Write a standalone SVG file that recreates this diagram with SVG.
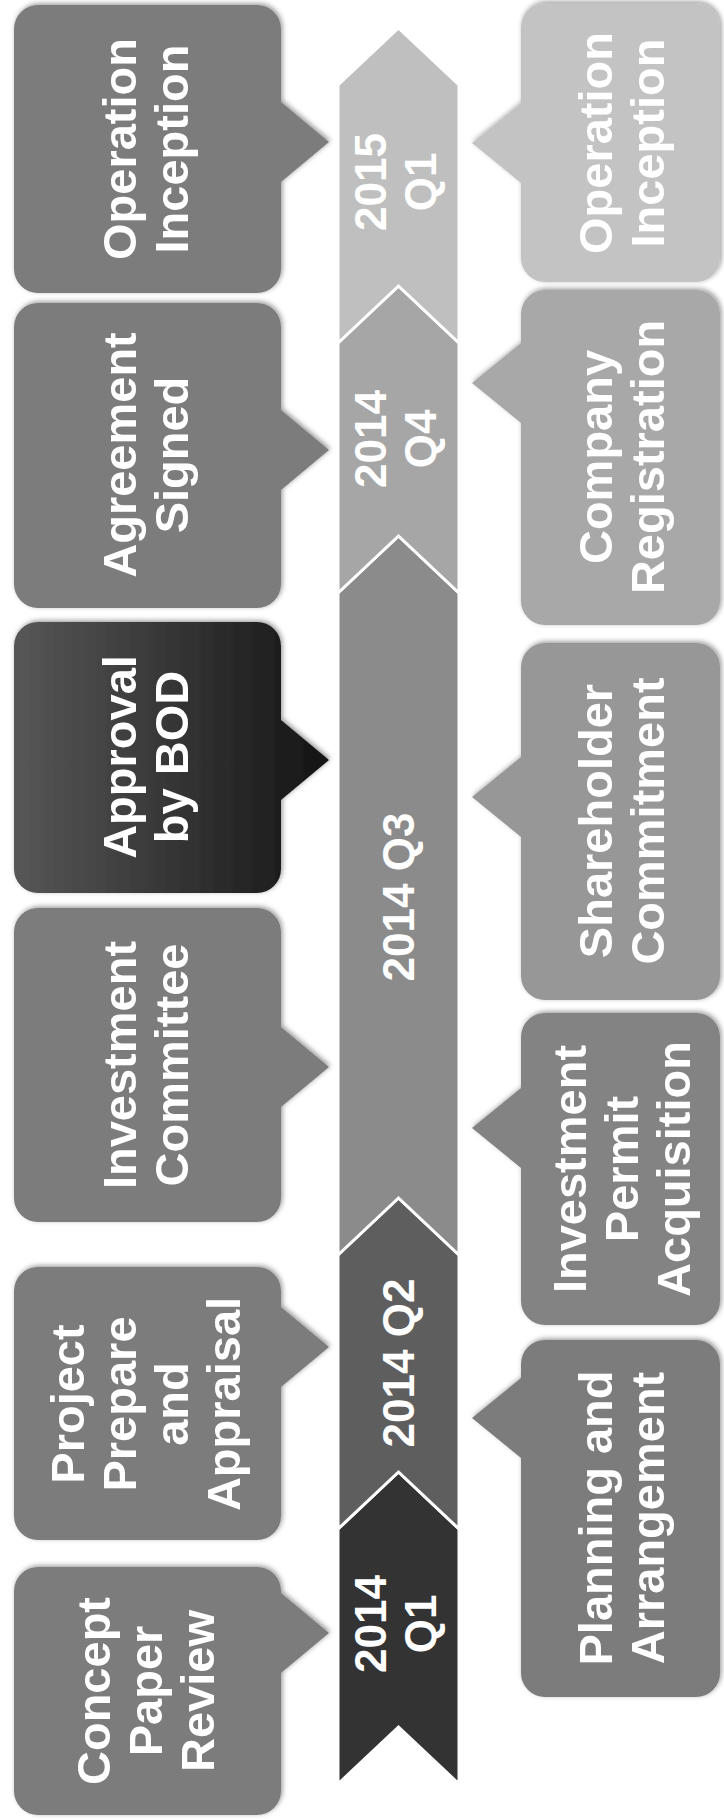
<svg xmlns="http://www.w3.org/2000/svg" width="724" height="1819" viewBox="0 0 724 1819">
<defs>
<style>
.lbl{font-family:"Liberation Sans",Arial,sans-serif;font-weight:bold;fill:#ffffff;text-anchor:middle}
.box{font-size:47px}
.band{font-size:44px}
.seg{stroke:#ffffff;stroke-width:3;stroke-linejoin:miter}
.call{filter:url(#sh)}
</style>
<filter id="sh" x="-10%" y="-10%" width="120%" height="120%">
<feDropShadow dx="1.5" dy="-1.5" stdDeviation="2.5" flood-color="#000" flood-opacity="0.4"/>
</filter>
<linearGradient id="dark" x1="0" y1="0" x2="1" y2="0">
<stop offset="0" stop-color="#575757"/>
<stop offset="1" stop-color="#141414"/>
</linearGradient>
</defs>
<rect width="724" height="1819" fill="#ffffff"/>

<g id="timeline">
<g id="seg-2014-q1">
<polygon class="seg" fill="#333333" points="338,1784 398.5,1727 459,1784 459,1529 398.5,1472 338,1529"/>
<text class="lbl band" transform="translate(396,1624) rotate(-90)"><tspan x="0" y="-9.6">2014</tspan><tspan x="0" y="40.4">Q1</tspan></text>
</g>
<g id="seg-2014-q2">
<polygon class="seg" fill="#5e5e5e" points="338,1529 398.5,1472 459,1529 459,1255 398.5,1198 338,1255"/>
<text class="lbl band" transform="translate(398.5,1363) rotate(-90)"><tspan x="0" y="15.4">2014 Q2</tspan></text>
</g>
<g id="seg-2014-q3">
<polygon class="seg" fill="#8b8b8b" points="338,1255 398.5,1198 459,1255 459,593 398.5,536 338,593"/>
<text class="lbl band" transform="translate(398.5,897) rotate(-90)"><tspan x="0" y="15.4">2014 Q3</tspan></text>
</g>
<g id="seg-2014-q4">
<polygon class="seg" fill="#a6a6a6" points="338,593 398.5,536 459,593 459,343 398.5,286 338,343"/>
<text class="lbl band" transform="translate(396,439) rotate(-90)"><tspan x="0" y="-9.6">2014</tspan><tspan x="0" y="40.4">Q4</tspan></text>
</g>
<g id="seg-2015-q1">
<polygon class="seg" fill="#bfbfbf" points="338,343 398.5,286 459,343 459,85 398.5,28 338,85"/>
<text class="lbl band" transform="translate(396,182) rotate(-90)"><tspan x="0" y="-9.6">2015</tspan><tspan x="0" y="40.4">Q1</tspan></text>
</g>
</g>

<g id="top-callouts">
<g id="concept-paper-review" class="call">
<path fill="#7b7b7b" d="M38,1567 H257 A24,24 0 0 1 281,1591 V1593 L329,1633 L281,1673 V1791 A24,24 0 0 1 257,1815 H38 A24,24 0 0 1 14,1791 V1591 A24,24 0 0 1 38,1567 Z"/>
<text class="lbl box" transform="translate(145,1691) rotate(-90)"><tspan x="0" y="-35.5">Concept</tspan><tspan x="0" y="16.5">Paper</tspan><tspan x="0" y="68.5">Review</tspan></text>
</g>
<g id="project-prepare-appraisal" class="call">
<path fill="#7b7b7b" d="M38,1267 H257 A24,24 0 0 1 281,1291 V1307 L329,1347 L281,1387 V1516 A24,24 0 0 1 257,1540 H38 A24,24 0 0 1 14,1516 V1291 A24,24 0 0 1 38,1267 Z"/>
<text class="lbl box" transform="translate(145,1404) rotate(-90)"><tspan x="0" y="-61.5">Project</tspan><tspan x="0" y="-9.5">Prepare</tspan><tspan x="0" y="42.5">and</tspan><tspan x="0" y="94.5">Appraisal</tspan></text>
</g>
<g id="investment-committee" class="call">
<path fill="#7b7b7b" d="M38,908 H257 A24,24 0 0 1 281,932 V1027 L329,1067 L281,1107 V1198 A24,24 0 0 1 257,1222 H38 A24,24 0 0 1 14,1198 V932 A24,24 0 0 1 38,908 Z"/>
<text class="lbl box" transform="translate(145,1065) rotate(-90)"><tspan x="0" y="-9.5">Investment</tspan><tspan x="0" y="42.5">Committee</tspan></text>
</g>
<g id="approval-by-bod" class="call">
<path fill="url(#dark)" d="M38,622 H257 A24,24 0 0 1 281,646 V720 L329,760 L281,800 V869 A24,24 0 0 1 257,893 H38 A24,24 0 0 1 14,869 V646 A24,24 0 0 1 38,622 Z"/>
<text class="lbl box" transform="translate(145,757) rotate(-90)"><tspan x="0" y="-9.5">Approval</tspan><tspan x="0" y="42.5">by BOD</tspan></text>
</g>
<g id="agreement-signed" class="call">
<path fill="#7b7b7b" d="M38,303 H257 A24,24 0 0 1 281,327 V410 L329,450 L281,490 V584 A24,24 0 0 1 257,608 H38 A24,24 0 0 1 14,584 V327 A24,24 0 0 1 38,303 Z"/>
<text class="lbl box" transform="translate(145,455) rotate(-90)"><tspan x="0" y="-9.5">Agreement</tspan><tspan x="0" y="42.5">Signed</tspan></text>
</g>
<g id="operation-inception-top" class="call">
<path fill="#7b7b7b" d="M38,5 H257 A24,24 0 0 1 281,29 V102 L329,142 L281,182 V269 A24,24 0 0 1 257,293 H38 A24,24 0 0 1 14,269 V29 A24,24 0 0 1 38,5 Z"/>
<text class="lbl box" transform="translate(145,149) rotate(-90)"><tspan x="0" y="-9.5">Operation</tspan><tspan x="0" y="42.5">Inception</tspan></text>
</g>
</g>

<g id="bottom-callouts">
<g id="planning-arrangement" class="call">
<path fill="#7b7b7b" d="M545,1340 H696 A24,24 0 0 1 720,1364 V1673 A24,24 0 0 1 696,1697 H545 A24,24 0 0 1 521,1673 V1458 L472,1418 L521,1378 V1364 A24,24 0 0 1 545,1340 Z"/>
<text class="lbl box" transform="translate(621,1518) rotate(-90)"><tspan x="0" y="-9.5">Planning and</tspan><tspan x="0" y="42.5">Arrangement</tspan></text>
</g>
<g id="investment-permit-acquisition" class="call">
<path fill="#838383" d="M545,1013 H696 A24,24 0 0 1 720,1037 V1301 A24,24 0 0 1 696,1325 H545 A24,24 0 0 1 521,1301 V1168 L472,1128 L521,1088 V1037 A24,24 0 0 1 545,1013 Z"/>
<text class="lbl box" transform="translate(621,1169) rotate(-90)"><tspan x="0" y="-35.5">Investment</tspan><tspan x="0" y="16.5">Permit</tspan><tspan x="0" y="68.5">Acquisition</tspan></text>
</g>
<g id="shareholder-commitment" class="call">
<path fill="#979797" d="M545,643 H696 A24,24 0 0 1 720,667 V976 A24,24 0 0 1 696,1000 H545 A24,24 0 0 1 521,976 V837 L472,797 L521,757 V667 A24,24 0 0 1 545,643 Z"/>
<text class="lbl box" transform="translate(621,821) rotate(-90)"><tspan x="0" y="-9.5">Shareholder</tspan><tspan x="0" y="42.5">Commitment</tspan></text>
</g>
<g id="company-registration" class="call">
<path fill="#a8a8a8" d="M545,290 H696 A24,24 0 0 1 720,314 V601 A24,24 0 0 1 696,625 H545 A24,24 0 0 1 521,601 V423 L472,383 L521,343 V314 A24,24 0 0 1 545,290 Z"/>
<text class="lbl box" transform="translate(621,457) rotate(-90)"><tspan x="0" y="-9.5">Company</tspan><tspan x="0" y="42.5">Registration</tspan></text>
</g>
<g id="operation-inception-bottom" class="call">
<path fill="#c3c3c3" d="M545,3 H696 A24,24 0 0 1 720,27 V258 A24,24 0 0 1 696,282 H545 A24,24 0 0 1 521,258 V183 L472,143 L521,103 V27 A24,24 0 0 1 545,3 Z"/>
<text class="lbl box" transform="translate(621,143) rotate(-90)"><tspan x="0" y="-9.5">Operation</tspan><tspan x="0" y="42.5">Inception</tspan></text>
</g>
</g>
</svg>
